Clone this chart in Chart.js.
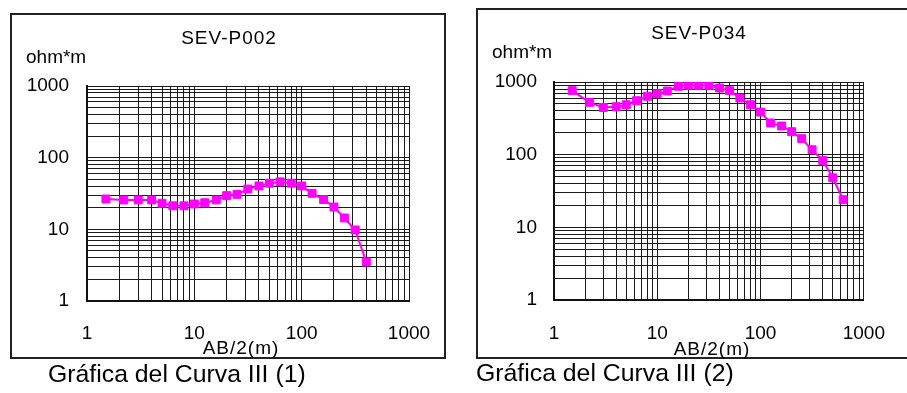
<!DOCTYPE html>
<html>
<head>
<meta charset="utf-8">
<script src="https://cdn.jsdelivr.net/npm/chart.js@4.4.0/dist/chart.umd.min.js"></script>
<style>
body{margin:0;background:#fff;width:907px;height:393px;overflow:hidden;position:relative;font-family:"Liberation Sans",Arial,sans-serif;color:#000}
.box{position:absolute;border:2px solid #222;box-sizing:border-box}
.t{position:absolute;white-space:nowrap;font-size:19px;line-height:19px}
.c{text-align:center;width:200px}
.cap{position:absolute;white-space:nowrap;font-size:24.8px;line-height:24.8px}
.wrap{position:absolute;top:0;height:393px}
</style>
</head>
<body>
<div class="box" style="left:10px;top:13px;width:436px;height:346px"></div>
<div class="box" style="left:476px;top:8px;width:440px;height:351px"></div>

<div class="wrap" style="left:0;width:453px"><canvas id="chart1"></canvas></div>
<div class="wrap" style="left:453px;width:454px"><canvas id="chart2"></canvas></div>

<div class="t c" style="left:129px;top:28px;letter-spacing:1px">SEV-P002</div>
<div class="t" style="left:26px;top:47px">ohm*m</div>
<div class="t c" style="left:141px;top:338px;letter-spacing:1px">AB/2(m)</div>
<div class="cap" style="left:48px;top:362px">Gráfica del Curva III (1)</div>

<div class="t c" style="left:599px;top:23px;letter-spacing:1px">SEV-P034</div>
<div class="t" style="left:492px;top:42px">ohm*m</div>
<div class="t c" style="left:612px;top:339px;letter-spacing:1px">AB/2(m)</div>
<div class="cap" style="left:476px;top:361px">Gráfica del Curva III (2)</div>

<script>
// AB/2 spacing (m) and apparent resistivity (ohm*m)
const abP002 = [1.5, 2.2, 3, 4, 5, 6.3, 8, 10, 12.5, 16, 20, 25, 31.5, 40, 50, 63, 80, 100, 125, 160, 200, 250, 315, 400];
const rhoP002 = [26.5, 25.7, 25.7, 25.7, 23.1, 21.3, 21.3, 22.6, 23.5, 25.7, 29.5, 30.8, 36.5, 40.3, 44, 46, 44, 40.3, 31.8, 26, 20.5, 14.4, 9.8, 3.5];

const abP034 = [1.5, 2.2, 3, 4, 5, 6.3, 8, 10, 12.5, 16, 20, 25, 31.5, 40, 50, 63, 80, 100, 125, 160, 200, 250, 315, 400, 500, 630];
const rhoP034 = [760, 525, 445, 457, 487, 553, 635, 690, 752, 873, 900, 900, 900, 827, 760, 602, 487, 386, 273, 248, 207, 166, 117, 83, 48, 24];

// log grid: 1..9 in every decade, labels only on the decades
const decades = [1, 10, 100, 1000];
const gridValues = [];
decades.forEach(function(d){
    if (d === 1000) { gridValues.push(d); return; }
    for (let k = 1; k <= 9; k++) gridValues.push(d * k);
});

Chart.defaults.font.family = "'Liberation Sans', Arial, sans-serif";
Chart.defaults.color = '#000';

function logAxis(fit, pad){
    return {
        type: 'logarithmic',
        min: 1,
        max: 1000,
        afterBuildTicks: function(s){
            s.ticks = gridValues.map(function(v){ return {value: v}; });
        },
        afterFit: fit,
        grid: {color: '#1a1a1a', lineWidth: 1, drawTicks: false},
        border: {color: '#111', width: 2},
        ticks: {
            autoSkip: false,
            maxRotation: 0,
            padding: pad,
            font: {size: 19},
            callback: function(v){
                return decades.indexOf(v) >= 0 ? String(v) : '';
            }
        }
    };
}

function makeChart(id, xs, ys, padding, xPad, yPad){
    new Chart(document.getElementById(id), {
        type: 'line',
        data: {
            datasets: [{
                data: xs.map(function(x, i){ return {x: x, y: ys[i]}; }),
                borderColor: '#ff00ff',
                backgroundColor: '#ff00ff',
                borderWidth: 2,
                pointStyle: 'rect',
                pointRadius: 5.6,
                pointBorderWidth: 1,
                tension: 0
            }]
        },
        options: {
            animation: false,
            responsive: true,
            maintainAspectRatio: false,
            layout: {padding: padding},
            plugins: {legend: {display: false}, tooltip: {enabled: false}},
            scales: {
                x: logAxis(function(s){ s.height = 50; }, xPad),
                y: logAxis(function(s){ s.width = 60; }, yPad)
            }
        }
    });
}

makeChart('chart1', abP002, rhoP002, {left: 27, top: 86, right: 44, bottom: 42}, 21, 18);
makeChart('chart2', abP034, rhoP034, {left: 41, top: 82, right: 25, bottom: 43}, 22, 17);
</script>
</body>
</html>
